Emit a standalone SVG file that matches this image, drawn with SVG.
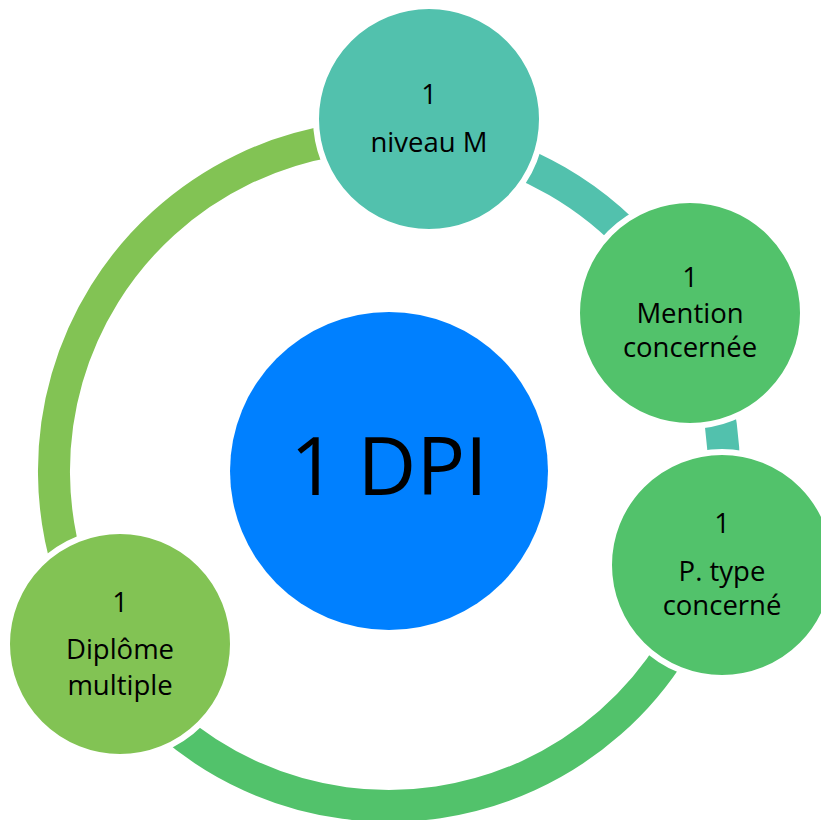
<svg xmlns="http://www.w3.org/2000/svg" width="821" height="820" viewBox="0 0 821 820">
<style>
.arc{fill:none;stroke-width:32}
.node{stroke:#FFFFFF;stroke-width:6}
.t{font-family:"Open Sans","Noto Sans","Liberation Sans",sans-serif;font-size:27.5px;fill:#000000;text-anchor:middle}
.big{font-family:"Open Sans","Noto Sans","Liberation Sans",sans-serif;font-size:81px;fill:#000000;text-anchor:middle}
</style>
<rect width="821" height="820" fill="#FFFFFF"/>
<g id="connectors">
<path class="arc" stroke="#52C1AD" d="M426.9,138.1 A335,335 0 0 1 711.3,562.2"/>
<path class="arc" stroke="#52C26B" d="M711.3,562.2 A335,335 0 0 1 107.1,652.0"/>
<path class="arc" stroke="#82C354" d="M107.1,652.0 A335,335 0 0 1 426.9,138.1"/>
</g>
<g id="center">
<circle cx="389" cy="471" r="159" fill="#0080FF"/>
<text class="big" x="389" y="495">1 DPI</text>
</g>
<g id="niveau">
<circle class="node" cx="429" cy="119" r="113" fill="#52C1AD"/>
<text class="t" x="429" y="104">1</text>
<text class="t" x="429" y="152">niveau M</text>
</g>
<g id="mention">
<circle class="node" cx="690" cy="313" r="113" fill="#52C26B"/>
<text class="t" x="690" y="287">1</text>
<text class="t" x="690" y="323">Mention</text>
<text class="t" x="690" y="357">concernée</text>
</g>
<g id="ptype">
<circle class="node" cx="722" cy="565" r="113" fill="#52C26B"/>
<text class="t" x="722" y="533">1</text>
<text class="t" x="722" y="581">P. type</text>
<text class="t" x="722" y="615">concerné</text>
</g>
<g id="diplome">
<circle class="node" cx="120" cy="644" r="113" fill="#82C354"/>
<text class="t" x="120" y="612">1</text>
<text class="t" x="120" y="659">Diplôme</text>
<text class="t" x="120" y="695">multiple</text>
</g>
</svg>
